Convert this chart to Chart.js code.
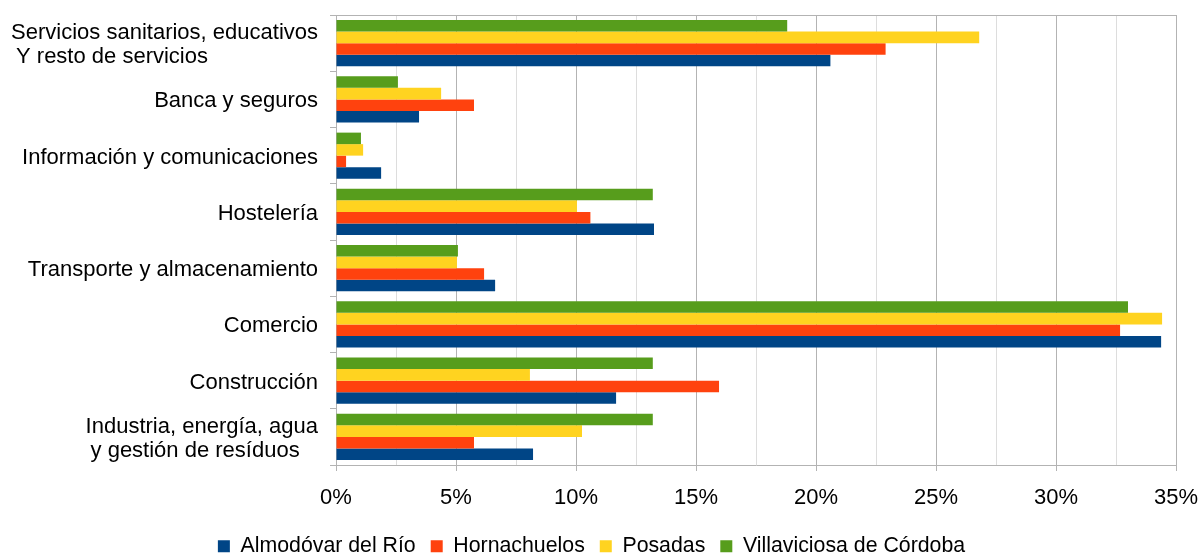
<!DOCTYPE html>
<html>
<head>
<meta charset="utf-8">
<script src="https://cdn.jsdelivr.net/npm/chart.js@4"></script>
<style>
  body { margin: 0; background: #fff; overflow: hidden; }
  #wrap { width: 1201px; height: 555px; }
</style>
</head>
<body>
<div id="wrap"><canvas id="sectorChart"></canvas></div>
<script>
// ------------------- Data -------------------
const sectors = [
  ["Servicios sanitarios, educativos", " Y resto de servicios                  "],
  "Banca y seguros",
  "Información y comunicaciones",
  "Hostelería",
  "Transporte y almacenamiento",
  "Comercio",
  "Construcción",
  ["Industria, energía, agua", "y gestión de resíduos   "]
];

const almodovar    = [20.6, 3.46, 1.88, 13.25, 6.63, 34.38, 11.67, 8.21];
const hornachuelos = [22.9, 5.75, 0.42, 10.6, 6.17, 32.67, 15.96, 5.75];
const posadas      = [26.8, 4.38, 1.13, 10.04, 5.04, 34.42, 8.08, 10.25];
const villaviciosa = [18.8, 2.58, 1.04, 13.2, 5.08, 33.0, 13.2, 13.2];

const xMax = 35;
const xStep = 2.5;

// ------------------- Chart -------------------
const family = "'Liberation Sans', Arial, sans-serif";
const axisFont = { family: family, size: 22 };
const legendFont = { family: family, size: 21.3 };
Chart.defaults.color = "#000";

// datasets go top -> bottom inside each group, legend shown reversed
new Chart(document.getElementById("sectorChart").getContext("2d"), {
  type: "bar",
  data: {
    labels: sectors,
    datasets: [
      { label: "Villaviciosa de Córdoba", data: villaviciosa, backgroundColor: "#579d1c" },
      { label: "Posadas", data: posadas, backgroundColor: "#ffd320" },
      { label: "Hornachuelos", data: hornachuelos, backgroundColor: "#ff420e" },
      { label: "Almodóvar del Río", data: almodovar, backgroundColor: "#004586" }
    ]
  },
  options: {
    indexAxis: "y",
    responsive: true,
    maintainAspectRatio: false,
    animation: false,
    categoryPercentage: 0.818,
    barPercentage: 1,
    layout: { padding: { top: 15, right: 25, left: 7, bottom: -12 } },
    scales: {
      x: {
        min: 0,
        max: xMax,
        ticks: {
          stepSize: xStep,
          font: axisFont,
          padding: 14,
          autoSkip: false,
          maxRotation: 0,
          callback: v => (v % 5 === 0 ? v + "%" : "")
        },
        grid: {
          color: c => (c.tick && c.tick.value % 5 === 0 ? "#b3b3b3" : "#dddddd"),
          tickColor: c => (c.tick && c.tick.value % 5 === 0 ? "#b3b3b3" : "rgba(0,0,0,0)"),
          tickLength: 6,
          lineWidth: 1
        },
        border: { color: "#b3b3b3" },
        afterFit: s => {
          s.height = 55.7;
          s.paddingLeft = 0;
          s.paddingRight = 0;
        }
      },
      y: {
        ticks: { font: { ...axisFont, lineHeight: 1.1 }, padding: 12, labelOffset: 2 },
        grid: {
          color: c => (c.index === 0 ? "#b3b3b3" : "rgba(0,0,0,0)"),
          tickColor: "#b3b3b3",
          tickLength: 6
        },
        border: { color: "#b3b3b3" },
        afterFit: s => {
          s.width = 329;
          s.paddingTop = 0;
          s.paddingBottom = 0;
        }
      }
    },
    plugins: {
      legend: {
        position: "bottom",
        reverse: true,
        labels: { font: legendFont, boxWidth: 12, boxHeight: 12, padding: 15 }
      },
      tooltip: { enabled: false }
    }
  }
});
</script>
</body>
</html>
